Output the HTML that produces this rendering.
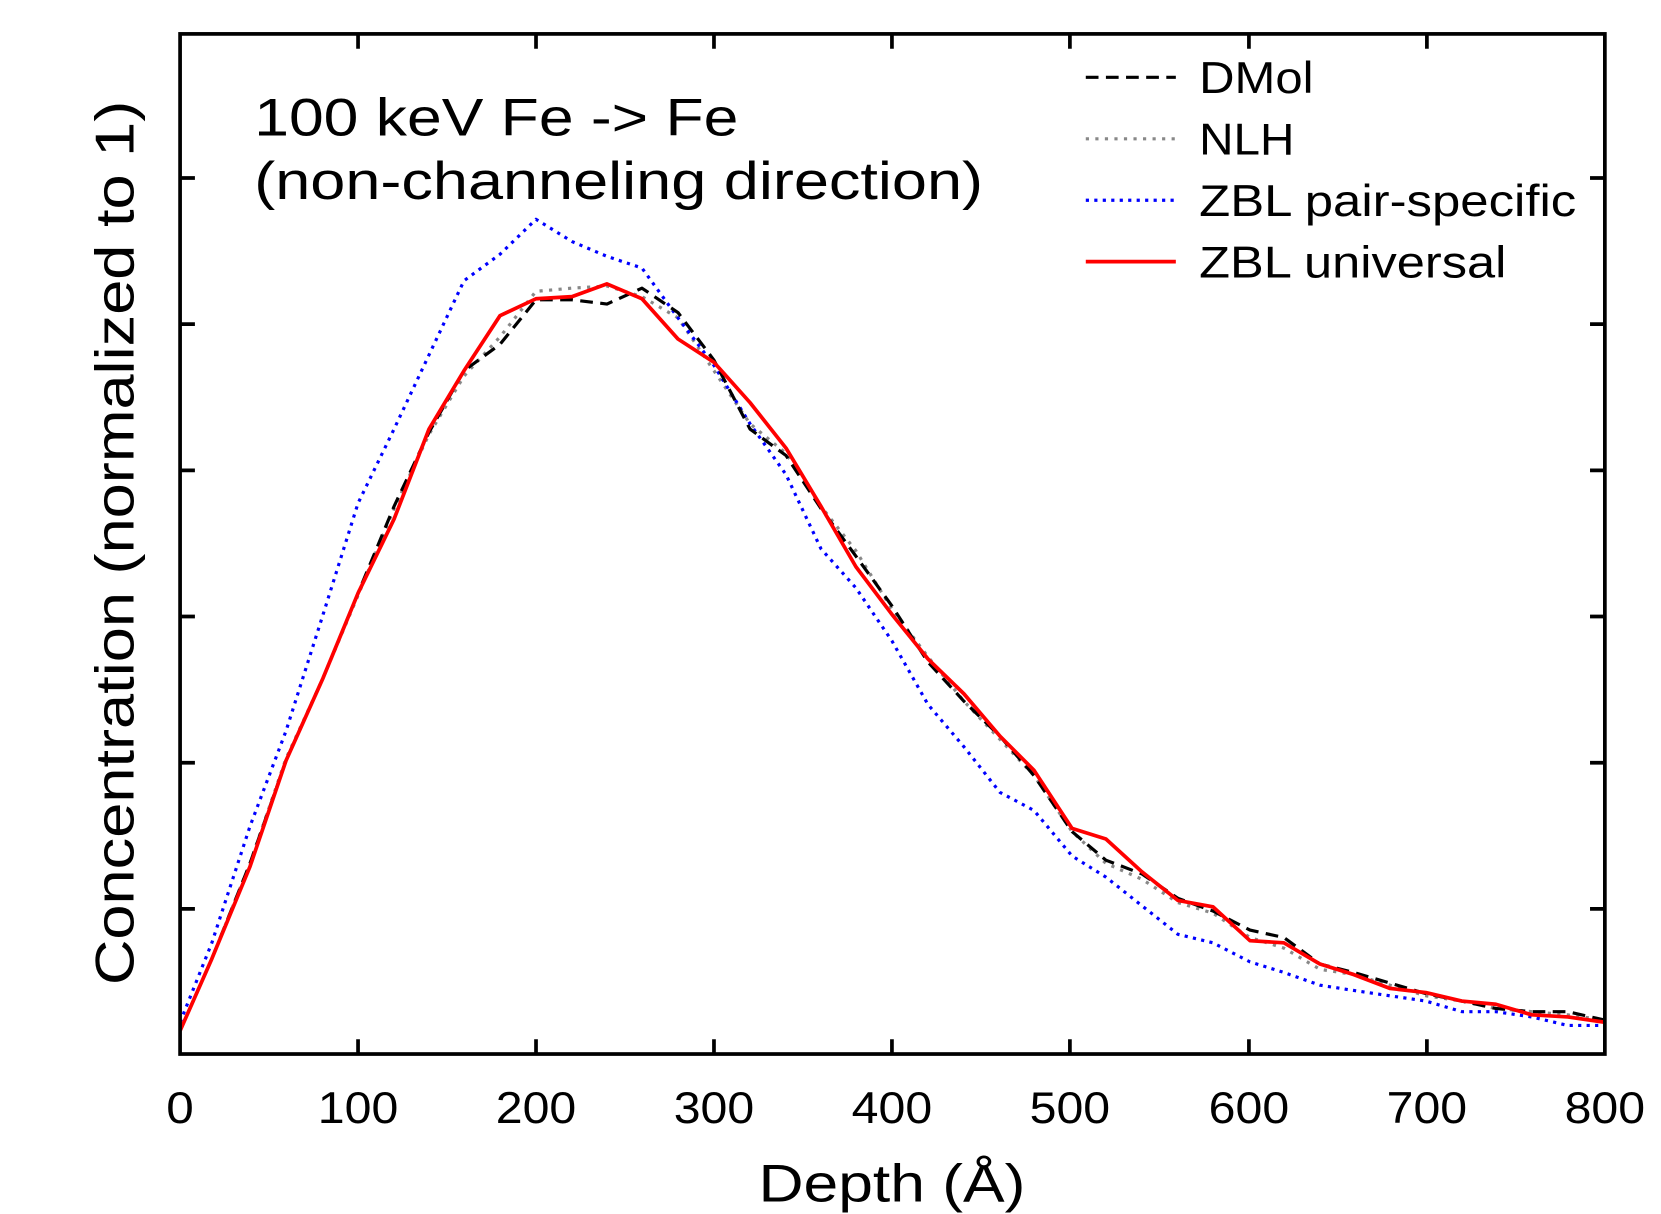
<!DOCTYPE html>
<html><head><meta charset="utf-8"><style>html,body{margin:0;padding:0;background:#fff}svg{display:block}</style></head>
<body>
<svg width="1661" height="1214" viewBox="0 0 1568 1146" xmlns="http://www.w3.org/2000/svg" font-family="Liberation Sans, Arial, sans-serif">
<rect width="1568" height="1146" fill="#fff"/>
<g fill="none" stroke-linejoin="round">
<polyline stroke="#888" stroke-width="3" stroke-dasharray="3,6" points="170,973 200,905 236,815 270,716 305,640 338,562 372,480 405,410 438,355 472,318 506,275 540,272 573,270 606,280 640,300 674,350 708,400 742,428 775,478 808,520 842,575 876,620 910,662 944,698 976,732 1012,785 1044,815 1078,830 1112,852 1145,862 1180,885 1212,895 1246,915 1278,920 1312,930 1346,940 1380,945 1412,952 1446,955 1480,958 1515,963"/>
<polyline stroke="#0000ff" stroke-width="3" stroke-dasharray="3,5" points="170,965 200,890 236,780 270,690 305,580 338,475 372,405 405,335 438,265 472,240 506,207 540,228 573,242 606,253 640,300 674,345 708,400 742,448 775,518 808,555 842,605 876,665 910,705 944,748 976,765 1012,808 1044,828 1078,855 1112,882 1145,890 1180,908 1212,918 1246,930 1278,935 1312,940 1346,945 1380,955 1412,955 1446,960 1480,968 1515,968"/>
<polyline stroke="#000" stroke-width="3" stroke-dasharray="12,7" points="170,973 200,905 236,815 270,718 305,640 338,560 372,478 405,408 438,350 472,325 506,283 540,283 573,287 606,272 640,295 674,340 708,405 742,430 775,480 808,525 842,572 876,625 910,662 944,695 976,732 1012,785 1044,812 1078,825 1112,848 1145,860 1180,878 1212,885 1246,910 1278,918 1312,928 1346,938 1380,945 1412,952 1446,955 1480,955 1515,963"/>
<polyline stroke="#ff0000" stroke-width="3.5" points="170,973 200,905 236,818 270,718 305,640 338,560 372,490 405,405 438,350 472,298 506,282 540,280 573,268 606,282 640,320 674,342 708,380 742,423 775,478 808,535 842,580 876,622 910,655 944,695 976,727 1012,782 1044,792 1078,823 1112,850 1145,856 1180,888 1212,890 1246,910 1278,920 1312,933 1346,937 1380,945 1412,948 1446,958 1480,960 1515,965"/>
</g>
<g stroke="#000" stroke-width="3.5" fill="none">
<rect x="170" y="32" width="1345" height="963"/>
<path d="M338,995v-14M506,995v-14M674,995v-14M842,995v-14M1010,995v-14M1179,995v-14M1347,995v-14M338,32v14M506,32v14M674,32v14M842,32v14M1010,32v14M1179,32v14M1347,32v14M170,858h14M170,720h14M170,582h14M170,444h14M170,306h14M170,168h14M1515,858h-14M1515,720h-14M1515,582h-14M1515,444h-14M1515,306h-14M1515,168h-14"/>
</g>
<g font-size="42" text-anchor="middle" fill="#000">
<text x="170" y="1060" textLength="26" lengthAdjust="spacingAndGlyphs">0</text><text x="338" y="1060" textLength="76" lengthAdjust="spacingAndGlyphs">100</text><text x="506" y="1060" textLength="76" lengthAdjust="spacingAndGlyphs">200</text><text x="674" y="1060" textLength="76" lengthAdjust="spacingAndGlyphs">300</text><text x="842" y="1060" textLength="76" lengthAdjust="spacingAndGlyphs">400</text><text x="1010" y="1060" textLength="76" lengthAdjust="spacingAndGlyphs">500</text><text x="1179" y="1060" textLength="76" lengthAdjust="spacingAndGlyphs">600</text><text x="1347" y="1060" textLength="76" lengthAdjust="spacingAndGlyphs">700</text><text x="1515" y="1060" textLength="76" lengthAdjust="spacingAndGlyphs">800</text>
</g>
<text x="716" y="1134" font-size="50" textLength="252" lengthAdjust="spacingAndGlyphs">Depth (Å)</text>
<text transform="translate(126,930) rotate(-90)" font-size="52" textLength="835" lengthAdjust="spacingAndGlyphs">Concentration (normalized to 1)</text>
<text x="240" y="128" font-size="50" textLength="457" lengthAdjust="spacingAndGlyphs">100 keV Fe -&gt; Fe</text>
<text x="240" y="188" font-size="50" textLength="688" lengthAdjust="spacingAndGlyphs">(non-channeling direction)</text>
<g stroke-width="3">
<line x1="1025" y1="73" x2="1110" y2="73" stroke="#000" stroke-dasharray="12,7"/>
<line x1="1025" y1="131" x2="1110" y2="131" stroke="#888" stroke-dasharray="3,6"/>
<line x1="1025" y1="189" x2="1110" y2="189" stroke="#0000ff" stroke-dasharray="3,5"/>
<line x1="1025" y1="247" x2="1110" y2="247" stroke="#ff0000" stroke-width="3.5"/>
</g>
<g font-size="42">
<text x="1132" y="88" textLength="108" lengthAdjust="spacingAndGlyphs">DMol</text>
<text x="1132" y="146" textLength="90" lengthAdjust="spacingAndGlyphs">NLH</text>
<text x="1132" y="204" textLength="356" lengthAdjust="spacingAndGlyphs">ZBL pair-specific</text>
<text x="1132" y="262" textLength="290" lengthAdjust="spacingAndGlyphs">ZBL universal</text>
</g>
</svg>
</body></html>
